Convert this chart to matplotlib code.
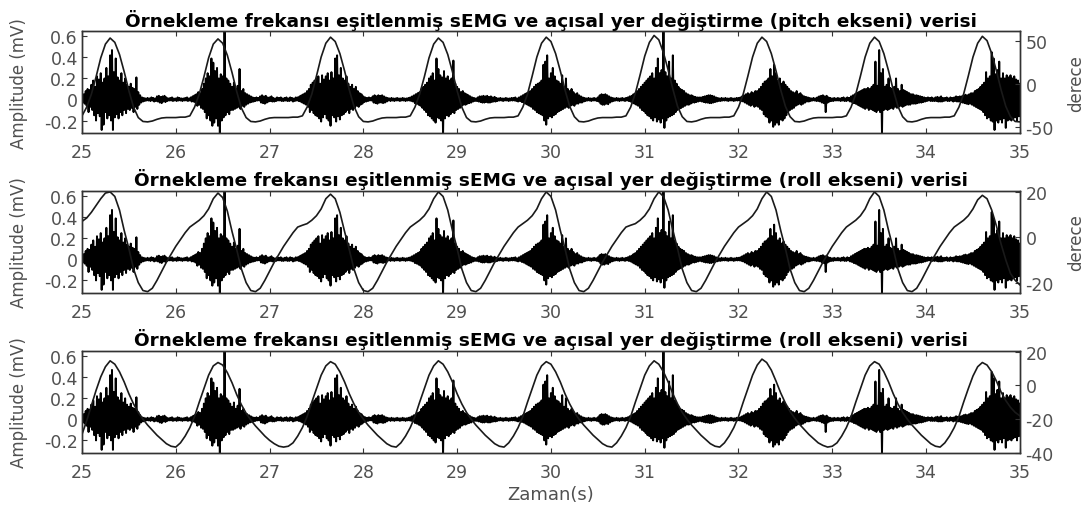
import matplotlib
matplotlib.use("Agg")
import matplotlib.pyplot as plt
import numpy as np

plt.rcParams['font.family'] = 'DejaVu Sans'
plt.rcParams['axes.unicode_minus'] = False

# sEMG (mV), one sample every 0.01 s from 25 s to 35 s
emg_mv = [
    .01,-.03,.05,-.04,.08,-.06,.1,-.12,.09,-.07,
    .14,-.1,.18,-.15,.12,-.2,.22,-.13,.19,-.16,
    .25,-.29,.16,-.24,.2,-.12,.3,-.18,.22,-.15,
    .42,-.2,.47,-.29,.26,-.17,.39,-.14,.21,-.18,
    .18,-.12,.25,-.15,.16,-.1,.2,-.13,.14,-.09,
    .12,-.1,.15,-.08,.11,-.12,.1,-.07,.21,-.09,
    .07,-.05,.04,-.03,.02,-.02,.015,-.015,.01,-.01,
    .015,-.01,.01,-.015,.02,-.01,.015,-.02,.01,-.015,
    .03,-.02,.035,-.03,.025,-.035,.03,-.02,.035,-.025,
    .02,-.015,.01,-.01,.015,-.01,.02,-.015,.01,-.01,
    .01,-.015,.02,-.01,.015,-.01,.01,-.015,.01,-.01,
    .015,-.01,.02,-.015,.01,-.01,.02,-.02,.03,-.02,
    .04,-.03,.05,-.06,.07,-.05,.06,-.08,.1,-.09,
    .15,-.12,.2,-.18,.25,-.15,.22,-.2,.39,-.25,
    .35,-.22,.27,-.18,.3,-.25,.2,-.33,.24,-.2,
    .22,-.17,.7,-.15,.2,-.12,.18,-.14,.15,-.1,
    .12,-.1,.16,-.09,.1,-.08,.13,-.07,.29,-.09,
    .08,-.06,.1,-.07,.06,-.05,.05,-.04,.04,-.03,
    .03,-.025,.02,-.02,.015,-.015,.02,-.01,.015,-.01,
    .03,-.03,.04,-.035,.03,-.04,.035,-.03,.02,-.02,
    .02,-.015,.03,-.02,.015,-.02,.01,-.015,.02,-.01,
    .015,-.01,.02,-.015,.01,-.015,.015,-.01,.02,-.015,
    .01,-.015,.02,-.01,.015,-.02,.01,-.015,.02,-.01,
    .02,-.015,.03,-.02,.04,-.03,.05,-.04,.06,-.05,
    .08,-.07,.1,-.12,.14,-.1,.16,-.13,.18,-.15,
    .2,-.16,.22,-.18,.15,-.21,.23,-.17,.19,-.14,
    .22,-.18,.25,-.2,.18,-.25,.26,-.15,.2,-.17,
    .39,-.21,.42,-.16,.23,-.19,.3,-.15,.2,-.14,
    .18,-.12,.22,-.1,.15,-.13,.12,-.09,.14,-.1,
    .1,-.08,.12,-.06,.08,-.07,.06,-.05,.05,-.04,
    .03,-.025,.02,-.02,.015,-.015,.02,-.01,.015,-.01,
    .03,-.03,.04,-.035,.03,-.04,.04,-.03,.035,-.03,
    .04,-.035,.03,-.03,.02,-.02,.015,-.01,.01,-.015,
    .015,-.01,.01,-.015,.01,-.01,.015,-.01,.01,-.015,
    .01,-.01,.015,-.01,.01,-.015,.01,-.01,.015,-.01,
    .02,-.015,.03,-.02,.04,-.035,.05,-.04,.06,-.05,
    .07,-.06,.1,-.08,.12,-.1,.14,-.12,.16,-.15,
    .2,-.16,.22,-.18,.25,-.2,.18,-.22,.39,-.17,
    .29,-.18,.23,-.2,.21,-.34,.27,-.18,.2,-.15,
    .22,-.16,.18,-.14,.2,-.12,.37,-.13,.15,-.1,
    .12,-.09,.1,-.08,.07,-.06,.08,-.05,.06,-.05,
    .05,-.04,.04,-.035,.03,-.03,.02,-.02,.015,-.015,
    .01,-.015,.02,-.02,.03,-.025,.03,-.03,.035,-.03,
    .03,-.025,.035,-.03,.025,-.03,.03,-.025,.02,-.02,
    .025,-.02,.015,-.015,.01,-.01,.015,-.01,.01,-.015,
    .01,-.01,.015,-.01,.01,-.015,.01,-.01,.015,-.01,
    .015,-.01,.02,-.015,.01,-.02,.02,-.015,.03,-.025,
    .04,-.03,.05,-.04,.06,-.05,.07,-.06,.08,-.07,
    .1,-.09,.12,-.1,.14,-.12,.15,-.13,.16,-.14,
    .18,-.15,.33,-.2,.36,-.24,.42,-.18,.2,-.16,
    .25,-.17,.3,-.15,.22,-.14,.18,-.12,.17,-.11,
    .15,-.1,.23,-.09,.12,-.08,.2,-.07,.1,-.08,
    .08,-.06,.1,-.05,.07,-.06,.05,-.04,.06,-.04,
    .04,-.03,.03,-.03,.02,-.02,.015,-.015,.01,-.01,
    .015,-.01,.01,-.015,.01,-.01,.015,-.01,.01,-.015,
    .02,-.02,.04,-.04,.05,-.05,.045,-.05,.05,-.04,
    .04,-.045,.03,-.03,.02,-.02,.015,-.015,.01,-.01,
    .015,-.01,.01,-.015,.01,-.01,.015,-.01,.01,-.015,
    .015,-.01,.02,-.015,.03,-.02,.035,-.03,.05,-.04,
    .06,-.05,.08,-.06,.1,-.08,.12,-.1,.14,-.11,
    .16,-.13,.18,-.15,.2,-.16,.22,-.18,.25,-.2,
    .2,-.17,.3,-.21,.39,-.19,.25,-.22,.28,-.18,
    .7,-.27,.26,-.2,.22,-.17,.36,-.16,.2,-.15,
    .42,-.14,.18,-.12,.15,-.1,.12,-.09,.1,-.08,
    .09,-.07,.08,-.06,.06,-.05,.05,-.05,.04,-.04,
    .04,-.03,.03,-.03,.025,-.025,.02,-.02,.02,-.015,
    .02,-.02,.025,-.025,.03,-.03,.035,-.03,.04,-.035,
    .04,-.035,.035,-.03,.03,-.025,.02,-.02,.015,-.015,
    .01,-.015,.015,-.01,.01,-.01,.015,-.01,.01,-.015,
    .01,-.01,.015,-.01,.01,-.015,.01,-.01,.015,-.01,
    .015,-.01,.02,-.015,.03,-.02,.04,-.03,.05,-.04,
    .06,-.05,.05,-.06,.07,-.05,.06,-.07,.08,-.06,
    .08,-.07,.1,-.09,.12,-.1,.15,-.14,.17,-.16,
    .18,-.17,.2,-.22,.29,-.2,.22,-.26,.33,-.24,
    .25,-.22,.18,-.24,.2,-.19,.15,-.2,.17,-.18,
    .14,-.15,.12,-.12,.1,-.1,.08,-.09,.07,-.08,
    .06,-.06,.08,-.05,.05,-.04,.06,-.05,.04,-.04,
    .03,-.03,.025,-.02,.02,-.02,.015,-.015,.01,-.01,
    .015,-.01,.01,-.015,.02,-.015,.03,-.02,.035,-.03,
    .04,-.035,.03,-.12,.035,-.03,.02,-.02,.015,-.015,
    .01,-.015,.015,-.01,.01,-.01,.015,-.01,.01,-.015,
    .015,-.01,.02,-.015,.01,-.015,.02,-.01,.015,-.02,
    .03,-.025,.04,-.035,.05,-.04,.06,-.05,.07,-.06,
    .08,-.07,.09,-.08,.1,-.09,.1,-.08,.11,-.1,
    .1,-.09,.12,-.1,.14,-.11,.36,-.12,.13,-.1,
    .47,-.12,.25,-.33,.29,-.1,.12,-.09,.14,-.1,
    .2,-.09,.11,-.08,.1,-.09,.12,-.07,.2,-.08,
    .1,-.07,.08,-.06,.14,-.07,.09,-.06,.08,-.05,
    .07,-.05,.06,-.05,.05,-.04,.05,-.04,.04,-.04,
    .04,-.035,.035,-.03,.03,-.03,.025,-.025,.02,-.02,
    .015,-.015,.02,-.01,.015,-.015,.02,-.015,.01,-.015,
    .02,-.015,.025,-.02,.02,-.02,.03,-.02,.015,-.015,
    .015,-.01,.02,-.015,.01,-.015,.02,-.01,.015,-.02,
    .02,-.015,.03,-.02,.025,-.02,.03,-.025,.03,-.03,
    .04,-.035,.045,-.04,.04,-.045,.05,-.04,.06,-.05,
    .06,-.06,.08,-.07,.09,-.08,.1,-.09,.12,-.1,
    .14,-.12,.16,-.15,.26,-.18,.2,-.17,.22,-.2,
    .45,-.21,.39,-.29,.24,-.2,.28,-.22,.36,-.19,
    .2,-.22,.25,-.18,.2,-.27,.23,-.2,.21,-.19,
    .23,-.2,.2,-.18,.22,-.17,.19,-.2,.18,-.16,
    .15,
]

# angular displacement (deg), one sample every 0.05 s from 25 s to 35 s
pitch_deg = [
    -37, -27, -12, 8, 30, 46, 53, 48, 34, 14, -8, -27, -39, -43.5, -44, -43, -41, -39.5, -39, -39,
    -39, -38.5, -38.5, -37, -27, -12, 8, 30, 46, 52, 47, 33, 13, -9, -28, -39, -43.5, -44, -43, -41,
    -39.5, -39, -39, -39, -39, -38.5, -38.5, -37, -27, -12, 9, 31, 47, 54, 49, 35, 15, -7, -26, -38,
    -43.5, -44, -43, -41, -39.5, -39, -39, -39, -38.5, -38.5, -37, -27, -12, 8, 30, 46, 53, 48, 34, 14,
    -8, -27, -39, -43.5, -44, -43, -41, -39.5, -39, -39, -39, -38.5, -38.5, -37, -27, -12, 9, 31, 47, 54,
    49, 35, 15, -7, -26, -38, -43.5, -44, -43, -41, -39.5, -39, -39, -39, -38.5, -38.5, -37, -27, -11, 10,
    32, 48, 56, 51, 36, 16, -6, -26, -38, -43.5, -44, -43, -41, -39.5, -39, -39, -39, -38.5, -38.5, -37,
    -27, -12, 9, 31, 47, 54, 49, 35, 15, -7, -26, -38, -43.5, -44, -43, -41, -39.5, -39, -39, -39,
    -39, -38.5, -38.5, -37, -27, -12, 9, 31, 47, 54, 49, 35, 15, -7, -26, -38, -43.5, -44, -43, -41,
    -39.5, -39, -39, -39, -38.5, -38.5, -37, -27, -12, 9, 31, 47, 55, 50, 35, 15, -7, -26, -38, -43.5,
    -44,
]

roll_deg = [
    7, 8.5, 11, 14, 17, 19.5, 20, 18, 12, 3, -5, -14, -20, -23.5, -24, -22.5, -19, -15, -11, -7.5,
    -4, -1, 2, 4.5, 6, 7.5, 9.5, 12.5, 17, 19.5, 17.5, 11.5, 2.5, -5.5, -14, -20, -23.5, -24, -22.5, -19,
    -15, -11, -7.5, -4, -1, 2, 4.5, 5.3, 6, 7.5, 9.5, 12.5, 17, 19, 17, 11, 2.5, -5.5, -14, -20,
    -23.5, -24, -22.5, -19, -15, -11, -7.5, -4, -1, 2, 4.5, 6, 7.5, 9.5, 12.5, 17, 20, 18, 12, 3,
    -5, -14, -20, -23.5, -24, -22.5, -19, -15, -11, -7.5, -4, -1, 2, 4.5, 6, 7.5, 9.5, 12.5, 17, 20,
    18, 12, 3, -5, -14, -20, -23.5, -24, -22.5, -19, -15, -11, -7.5, -4, -1, 2, 4.5, 5.3, 6, 7.5,
    9.5, 12.5, 17, 20, 18, 12, 3, -5, -14, -20, -23.5, -24, -22.5, -19, -15, -11, -7.5, -4, -1, 2,
    4.5, 6, 7.5, 9.5, 12.5, 17, 20, 18, 12, 3, -5, -14, -20, -23.5, -24, -22.5, -19, -15, -11, -7.5,
    -4, -1, 2, 4.5, 6, 7.5, 9.5, 12.5, 17, 20, 18, 12, 3, -5, -14, -20, -23.5, -24, -22.5, -19,
    -15, -11, -7.5, -4, -1, 2, 4.5, 6, 7.5, 9.5, 12.5, 16.5, 18.5, 17, 12, 5, -3, -10, -16, -19,
    -21,
]

roll2_deg = [
    -29, -21, -12, -3, 5, 11, 14.5, 12.5, 8, 2, -5, -11, -16, -20, -23.5, -26.5, -29.5, -32, -34.5, -36,
    -36.5, -34, -30, -25, -18.5, -10, -2, 6, 11.5, 13.5, 12, 7.5, 1.5, -5.5, -11.5, -16.5, -20.5, -24, -27, -30,
    -32.5, -34.5, -36, -36.5, -36, -34, -30, -25, -18.5, -10, -2, 6, 11.5, 14, 12.5, 8, 2, -5, -11, -16,
    -20, -23.5, -26.5, -29.5, -32, -34.5, -36, -36.5, -34, -30, -25, -18.5, -10, -2, 6, 11.5, 14.5, 12.5, 8, 2,
    -5, -11, -16, -20, -23.5, -26.5, -29.5, -32, -34.5, -36, -36.5, -34, -30, -25, -18.5, -10, -2, 6, 11.5, 14,
    12.5, 8, 2, -5, -11, -16, -20, -23.5, -26.5, -29.5, -32, -34.5, -36, -36.5, -34, -30, -25, -18.5, -10, -2,
    6, 11.5, 14.5, 12.5, 8, 2, -5, -11, -16, -20, -23.5, -26.5, -29.5, -32, -34.5, -36, -36.5, -34, -30, -25,
    -18.5, -10, -2, 6, 12, 15.5, 13.5, 9, 2.5, -4.5, -10.5, -15.5, -19.5, -23, -26, -29, -31.5, -34, -35.5, -36.5,
    -36, -34, -30, -25, -18.5, -10, -2, 6, 11.5, 14, 12.5, 8, 2, -5, -11, -16, -20, -23.5, -26.5, -29.5,
    -32, -34.5, -36, -36.5, -34, -30, -25, -18.5, -10, -2, 5.5, 11, 13.5, 12, 8, 2.5, -4, -9, -13, -16,
    -18,
]

titles = [
    "Örnekleme frekansı eşitlenmiş sEMG ve açısal yer değiştirme (pitch ekseni) verisi",
    "Örnekleme frekansı eşitlenmiş sEMG ve açısal yer değiştirme (roll ekseni) verisi",
    "Örnekleme frekansı eşitlenmiş sEMG ve açısal yer değiştirme (roll ekseni) verisi",
]
angles = [pitch_deg, roll_deg, roll2_deg]
right_ticks = [[-50, 0, 50], [-20, 0, 20], [-40, -20, 0, 20]]
right_lims = [(-57, 61), (-24.6, 20.4), (-40, 20.3)]
right_labels = ["derece", "derece", ""]
left_ticks = [-0.2, 0, 0.2, 0.4, 0.6]
left_ticklabels = ["-0.2", "0", "0.2", "0.4", "0.6"]

t_emg = np.linspace(25, 35, len(emg_mv))
t_ang = np.linspace(25, 35, len(pitch_deg))

grey = '#505050'
spine_c = '#333333'

fig = plt.figure(figsize=(10.83, 5.10), dpi=100)
bottoms = [0.737, 0.4235, 0.1098]

for i in range(3):
    ax = fig.add_axes([0.0757, bottoms[i], 0.866, 0.2])
    ax.plot(t_emg, emg_mv, color='black', lw=1.4)
    ax.set_xlim(25, 35)
    ax.set_ylim(-0.32, 0.65)
    ax.set_xticks(range(25, 36))
    ax.set_yticks(left_ticks)
    ax.set_yticklabels(left_ticklabels)
    ax.tick_params(axis='x', direction='in', top=True, length=3.5, pad=7,
                   labelsize=12.5, labelcolor=grey, color=spine_c)
    ax.tick_params(axis='y', direction='in', right=False, length=3.5, pad=3,
                   labelsize=12.5, labelcolor=grey, color=spine_c)
    ax.set_ylabel("Amplitude (mV)", fontsize=12, color=grey)
    ax.yaxis.set_label_coords(-0.058, 0.5)
    ax.set_title(titles[i], fontsize=13.3, fontweight='bold', pad=4)

    ax2 = ax.twinx()
    ax2.plot(t_ang, angles[i], color='#1a1a1a', lw=1.2)
    ax2.set_ylim(*right_lims[i])
    ax2.set_yticks(right_ticks[i])
    ax2.tick_params(axis='y', direction='in', length=3.5, pad=4,
                    labelsize=12.5, labelcolor=grey, color=spine_c)
    if right_labels[i]:
        ax2.set_ylabel(right_labels[i], fontsize=12, color=grey)
        ax2.yaxis.set_label_coords(1.05, 0.5)
    for a in (ax, ax2):
        for s in a.spines.values():
            s.set_color(spine_c)
            s.set_linewidth(1.0)

    if i == 2:
        ax.set_xlabel("Zaman(s)", fontsize=13, color=grey, labelpad=3)

fig.savefig("out.png", dpi=100)
